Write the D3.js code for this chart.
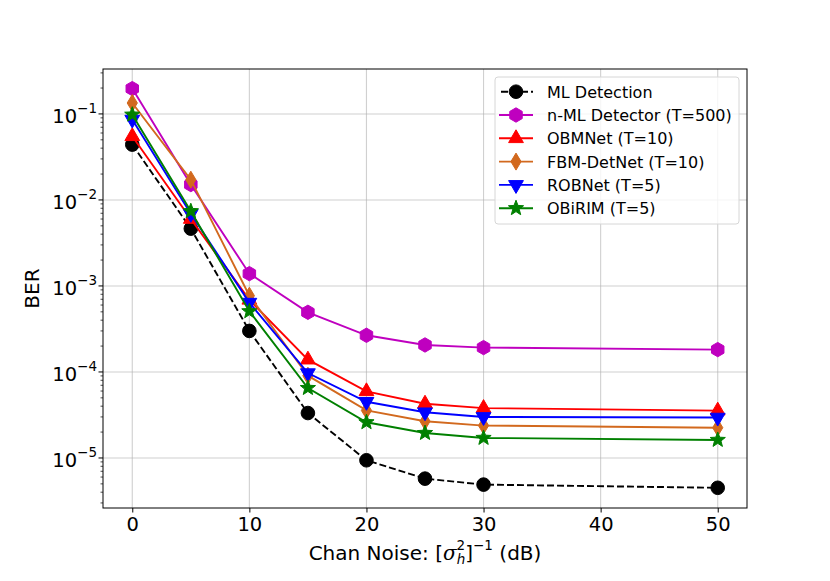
<!DOCTYPE html>
<html>
<head>
<meta charset="utf-8">
<script src="https://cdn.jsdelivr.net/npm/d3@7"></script>
<style>
  body { margin: 0; background: #fff; }
  text { font-family: "DejaVu Sans", sans-serif; fill: #000; }
</style>
</head>
<body>
<div id="chart"></div>
<script>
// SNR points (dB) and BER per detector
const snr = [0, 5, 10, 15, 20, 25, 30, 50];
const berML = [0.044, 0.00464, 3.0e-4, 3.33e-5, 9.4e-6, 5.75e-6, 4.9e-6, 4.5e-6];
const berNML = [0.197, 0.0151, 1.39e-3, 4.94e-4, 2.67e-4, 2.06e-4, 1.92e-4, 1.82e-4];
const berOBM = [0.055, 6.0e-3, 6.9e-4, 1.39e-4, 5.95e-5, 4.27e-5, 3.8e-5, 3.55e-5];
const berFBM = [0.134, 0.0172, 7.7e-4, 9.05e-5, 3.57e-5, 2.67e-5, 2.38e-5, 2.25e-5];
const berROB = [0.086, 6.9e-3, 6.4e-4, 9.7e-5, 4.5e-5, 3.4e-5, 3.0e-5, 2.95e-5];
const berOBiRIM = [0.098, 7.4e-3, 5.07e-4, 6.5e-5, 2.6e-5, 1.95e-5, 1.71e-5, 1.62e-5];

const seriesNames = ['ML Detection', 'n-ML Detector (T=500)', 'OBMNet (T=10)', 'FBM-DetNet (T=10)', 'ROBNet (T=5)', 'OBiRIM (T=5)'];
const seriesColors = ['#000000', '#bf00bf', '#ff0000', '#d2691e', '#0000ff', '#008000'];
const seriesMarkers = ['circle', 'hexagon', 'triUp', 'diamond', 'triDown', 'star'];
const seriesValues = [berML, berNML, berOBM, berFBM, berROB, berOBiRIM];

const xTicks = [0, 10, 20, 30, 40, 50];
const yDecades = [-1, -2, -3, -4, -5];

const W = 830, H = 581;
const margin = {top: 69, right: 83, bottom: 73, left: 103};
const width = W - margin.left - margin.right;
const height = H - margin.top - margin.bottom;

const svg = d3.select('#chart').append('svg')
    .attr('width', W).attr('height', H);
const chart = svg.append('g')
    .attr('transform', `translate(${margin.left},${margin.top})`);

const x = d3.scaleLinear().domain([-2.5, 52.5]).range([0, width]);
const y = d3.scaleLog().domain([2.62e-6, 0.333]).range([height, 0]);

// grid
chart.append('g').selectAll('line').data(xTicks).join('line')
    .attr('x1', d => x(d)).attr('x2', d => x(d))
    .attr('y1', 0).attr('y2', height)
    .attr('stroke', '#b0b0b0').attr('stroke-opacity', 0.6).attr('stroke-width', 1.1);
chart.append('g').selectAll('line').data(yDecades).join('line')
    .attr('x1', 0).attr('x2', width)
    .attr('y1', d => y(Math.pow(10, d))).attr('y2', d => y(Math.pow(10, d)))
    .attr('stroke', '#b0b0b0').attr('stroke-opacity', 0.6).attr('stroke-width', 1.1);

// x axis
const xAxis = chart.append('g')
    .attr('transform', `translate(0,${height})`)
    .call(d3.axisBottom(x).tickValues(xTicks).tickSize(4.5).tickPadding(5).tickFormat(d3.format('d')));
xAxis.select('.domain').remove();
xAxis.selectAll('text').attr('font-size', 19.5).style('font-family', '"DejaVu Sans", sans-serif');

// y axis: minor ticks
const minor = [];
for (let e = -6; e <= 0; e++) {
    for (let m = 2; m <= 9; m++) {
        const v = m * Math.pow(10, e);
        if (v >= y.domain()[0] && v <= y.domain()[1]) minor.push(v);
    }
}
const yAxisG = chart.append('g');
yAxisG.selectAll('.minor').data(minor).join('line')
    .attr('class', 'minor')
    .attr('x1', -2.5).attr('x2', 0)
    .attr('y1', d => y(d)).attr('y2', d => y(d))
    .attr('stroke', '#000').attr('stroke-width', 0.7);
yAxisG.selectAll('.major').data(yDecades).join('line')
    .attr('class', 'major')
    .attr('x1', -4.5).attr('x2', 0)
    .attr('y1', d => y(Math.pow(10, d))).attr('y2', d => y(Math.pow(10, d)))
    .attr('stroke', '#000').attr('stroke-width', 1);
const yLabels = yAxisG.selectAll('.ylab').data(yDecades).join('text')
    .attr('class', 'ylab')
    .attr('x', -6)
    .attr('y', d => y(Math.pow(10, d)) + 8.7)
    .attr('text-anchor', 'end')
    .attr('font-size', 19.5);
yLabels.append('tspan').text('10');
yLabels.append('tspan').attr('dy', -10).attr('font-size', 13.5).text(d => '\u2212' + Math.abs(d));

// frame
chart.append('rect')
    .attr('width', width).attr('height', height)
    .attr('fill', 'none').attr('stroke', '#000').attr('stroke-width', 1);

// axis titles
svg.append('text')
    .attr('transform', `translate(39,${margin.top + height / 2}) rotate(-90)`)
    .attr('text-anchor', 'middle')
    .attr('font-size', 20)
    .text('BER');

const xt = svg.append('text')
    .attr('x', margin.left + width / 2)
    .attr('y', 560)
    .attr('text-anchor', 'middle')
    .attr('font-size', 20);
xt.append('tspan').text('Chan Noise: [');
xt.append('tspan').attr('font-style', 'italic').attr('font-family', '"DejaVu Serif", serif').text('σ');
xt.append('tspan').attr('font-size', 13.5).attr('dy', -10).text('2');
xt.append('tspan').attr('font-size', 13.5).attr('font-style', 'italic').attr('dx', -8.5).attr('dy', 14).text('h');
xt.append('tspan').attr('dy', -4).text(']');
xt.append('tspan').attr('font-size', 13.5).attr('dy', -10).text('\u22121');
xt.append('tspan').attr('dy', 10).text(' (dB)');

// markers
function markerPath(type) {
    if (type === 'circle') return d3.symbol(d3.symbolCircle, Math.PI * 6.8 * 6.8)();
    if (type === 'hexagon') {
        const r = 7.2;
        const pts = d3.range(6).map(i => {
            const a = -Math.PI / 2 + i * Math.PI / 3;
            return [r * Math.cos(a), r * Math.sin(a)];
        });
        return 'M' + pts.join('L') + 'Z';
    }
    if (type === 'triUp') return 'M0,-8.5L7.4,4.3L-7.4,4.3Z';
    if (type === 'triDown') return 'M0,8.5L7.4,-4.3L-7.4,-4.3Z';
    if (type === 'diamond') return 'M0,-8.5L5.1,0L0,8.5L-5.1,0Z';
    if (type === 'star') {
        const pts = d3.range(10).map(i => {
            const r = i % 2 === 0 ? 8 : 3.4;
            const a = -Math.PI / 2 + i * Math.PI / 5;
            return [r * Math.cos(a), r * Math.sin(a)];
        });
        return 'M' + pts.join('L') + 'Z';
    }
}

const line = d3.line().x(d => x(d[0])).y(d => y(d[1]));

seriesValues.forEach((vals, i) => {
    const pts = snr.map((s, j) => [s, vals[j]]);
    const g = chart.append('g');
    g.append('path')
        .attr('d', line(pts))
        .attr('fill', 'none')
        .attr('stroke', seriesColors[i])
        .attr('stroke-width', 1.9)
        .attr('stroke-dasharray', i === 0 ? '7,3' : null);
    g.selectAll('path.mk').data(pts).join('path')
        .attr('class', 'mk')
        .attr('transform', d => `translate(${x(d[0])},${y(d[1])})`)
        .attr('d', markerPath(seriesMarkers[i]))
        .attr('fill', seriesColors[i])
        .attr('stroke', seriesColors[i])
        .attr('stroke-width', 1);
});

// legend
const lg = svg.append('g').attr('transform', 'translate(495,77)');
lg.append('rect')
    .attr('width', 244).attr('height', 147)
    .attr('rx', 3)
    .attr('fill', '#fff').attr('fill-opacity', 0.8)
    .attr('stroke', '#d6d6d6').attr('stroke-width', 1);
seriesNames.forEach((name, i) => {
    const ry = 14.7 + i * 23.3;
    const row = lg.append('g').attr('transform', `translate(0,${ry})`);
    row.append('line')
        .attr('x1', 4).attr('x2', 38)
        .attr('stroke', seriesColors[i]).attr('stroke-width', 1.9)
        .attr('stroke-dasharray', i === 0 ? '7,3' : null)
        .attr('stroke-dashoffset', i === 0 ? -2 : null);
    row.append('path')
        .attr('transform', 'translate(21,0)')
        .attr('d', markerPath(seriesMarkers[i]))
        .attr('fill', seriesColors[i]).attr('stroke', seriesColors[i]);
    row.append('text')
        .attr('x', 52).attr('y', 6)
        .attr('font-size', 16)
        .text(name);
});
</script>
</body>
</html>
